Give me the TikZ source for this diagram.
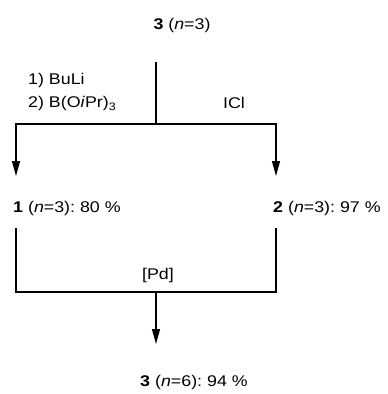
\documentclass[tikz,border=0pt]{standalone}
\usepackage{fontspec}
\setmainfont[FakeStretch=1.15]{Liberation Sans}
\usetikzlibrary{arrows.meta}
\frenchspacing
\begin{document}
\begin{tikzpicture}[x=1pt,y=-1pt,
  lbl/.style={inner sep=0pt, font=\fontsize{15.5}{23}\selectfont\frenchspacing},
  conn/.style={line width=1.2pt},
  arr/.style={conn, -{Triangle[length=15pt,width=8pt]}}]
\useasboundingbox (0,0) rectangle (388,394);
% texts
\node[lbl] (s3) at (182,25) {\textbf{3} (\textit{n}=3)};
\node[lbl, anchor=west, align=left] (reag) at (28,92) {1) BuLi\\2) B(O\textit{i}Pr)\textsubscript{3}};
\node[lbl] (icl) at (234,103) {ICl};
\node[lbl, anchor=west] (p1) at (13,208) {\textbf{1} (\textit{n}=3): 80 \%};
\node[lbl, anchor=west] (p2) at (273,208) {\textbf{2} (\textit{n}=3): 97 \%};
\node[lbl] (pd) at (158,275) {[Pd]};
\node[lbl] (p3) at (194,382) {\textbf{3} (\textit{n}=6): 94 \%};
% coordinates
\coordinate (top) at (156,62);
\coordinate (jn) at (156,124);
\coordinate (jl) at (16,124);
\coordinate (jr) at (276,124);
\coordinate (tl) at (16,176);
\coordinate (tr) at (276,176);
\coordinate (bl) at (16,228);
\coordinate (br) at (276,228);
\coordinate (cl) at (16,292);
\coordinate (cr) at (276,292);
\coordinate (cm) at (156,292);
\coordinate (tb) at (156,344);
% connectors
\draw[conn] (top) -- (jn);
\draw[arr] (jn) -- (jl) -- (tl);
\draw[arr] (jn) -- (jr) -- (tr);
\draw[conn] (bl) -- (cl) -- (cr) -- (br);
\draw[arr] (cm) -- (tb);
\end{tikzpicture}
\end{document}
